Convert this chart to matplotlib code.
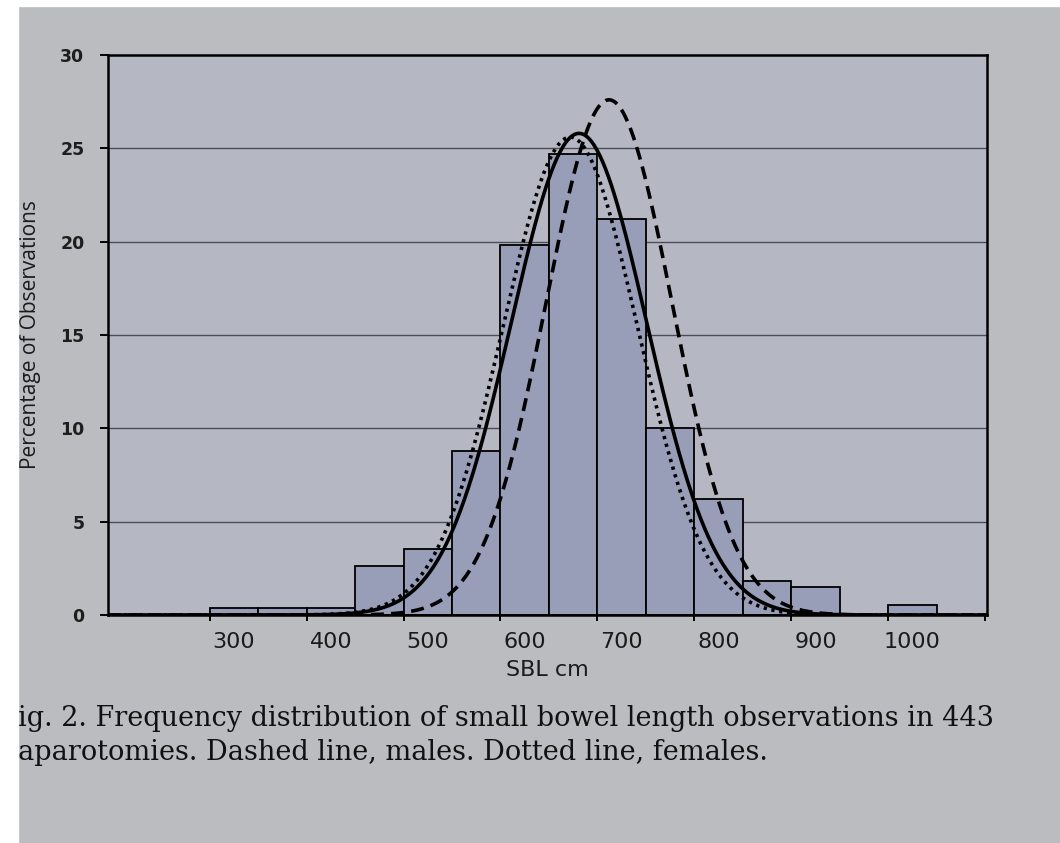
import numpy as np
import matplotlib
matplotlib.use("Agg")
import matplotlib.pyplot as plt
from matplotlib.patches import Rectangle

# ---- data ----
bin_centers = [300, 350, 400, 450, 500, 550, 600, 650, 700, 750, 800, 850, 900, 950, 1000]
percentages = [0.35, 0.35, 0.4, 2.6, 3.55, 8.8, 19.8, 24.7, 21.2, 10.0, 6.2, 1.8, 1.5, 0.0, 0.55]
bin_width = 50

# fitted normal curves: (mean cm, sd cm, peak %)
all_fit = (656, 70, 25.8)      # solid line, all patients
male_fit = (687, 65, 27.6)     # dashed line, males
female_fit = (647, 69, 25.6)   # dotted line, females

x_tick_marks = [275, 375, 475, 575, 675, 775, 875, 975, 1075]
x_label_pos = [300, 400, 500, 600, 700, 800, 900, 1000]
x_label_txt = ["300", "400", "500", "600", "700", "800", "900", "1000"]
y_ticks = [0, 5, 10, 15, 20, 25, 30]

caption_1 = "ig. 2. Frequency distribution of small bowel length observations in 443"
caption_2 = "aparotomies. Dashed line, males. Dotted line, females."

# ---- figure ----
W, H = 1060, 843
fig = plt.figure(figsize=(W / 100, H / 100), dpi=100)
bg = "#babcbf"
fig.patch.set_facecolor(bg)

ax = fig.add_axes([108 / W, 1 - 615 / H, (987 - 108) / W, (615 - 55) / H])
ax.set_facecolor("#b5b8c2")

ax.bar(bin_centers, percentages, width=bin_width, color="#989db8",
       edgecolor="black", linewidth=1.3, zorder=2)

xs = np.linspace(170, 1077, 600)
def curve(fit):
    m, s, p = fit
    return p * np.exp(-0.5 * ((xs - m) / s) ** 2)

ax.plot(xs, curve(all_fit), color="black", lw=2.6, zorder=3)
ax.plot(xs, curve(male_fit), color="black", lw=2.6, dashes=(3.6, 2.0), zorder=3)
ax.plot(xs, curve(female_fit), color="black", lw=2.6, dashes=(0.9, 1.3), zorder=3)

ax.set_xlim(170, 1077)
ax.set_ylim(0, 30)
ax.set_yticks(y_ticks)
ax.set_yticklabels([str(v) for v in y_ticks], fontfamily="DejaVu Sans",
                   fontweight="bold", fontsize=12.5, color="#1e1e1e")
ax.set_xticks(x_tick_marks)
ax.set_xticklabels([])
ax.set_xticks(x_label_pos, minor=True)
ax.set_xticklabels(x_label_txt, minor=True, fontfamily="DejaVu Sans",
                   fontsize=16, color="#1a1a1a")
ax.tick_params(axis="x", which="major", length=4, width=1.4, direction="out")
ax.tick_params(axis="x", which="minor", length=0, pad=12)
ax.tick_params(axis="y", length=6, width=1.4, direction="out", pad=11)

for y in [5, 10, 15, 20, 25]:
    ax.axhline(y, color="#4a4d58", lw=1.0, zorder=1)

for sp in ax.spines.values():
    sp.set_linewidth(1.8)
    sp.set_color("black")

ax.set_xlabel("SBL cm", fontfamily="DejaVu Sans", fontsize=16, color="#1a1a1a", labelpad=6)
ax.set_ylabel("Percentage of Observations", fontfamily="Open Sans", fontsize=15,
              color="#1a1a1a", labelpad=14)

fig.text(18 / W, 1 - 718 / H, caption_1, fontfamily="DejaVu Serif",
         fontsize=19.5, va="center", ha="left", color="#111111")
fig.text(18 / W, 1 - 753 / H, caption_2, fontfamily="DejaVu Serif",
         fontsize=19.5, va="center", ha="left", color="#111111")

# white photo edges
fig.patches.append(Rectangle((0, 0), 18 / W, 1, transform=fig.transFigure,
                             color="white", zorder=10))
fig.patches.append(Rectangle((0, 1 - 6 / H), 1, 6 / H, transform=fig.transFigure,
                             color="white", zorder=10))

fig.savefig("out.png", dpi=100, facecolor=fig.get_facecolor())
